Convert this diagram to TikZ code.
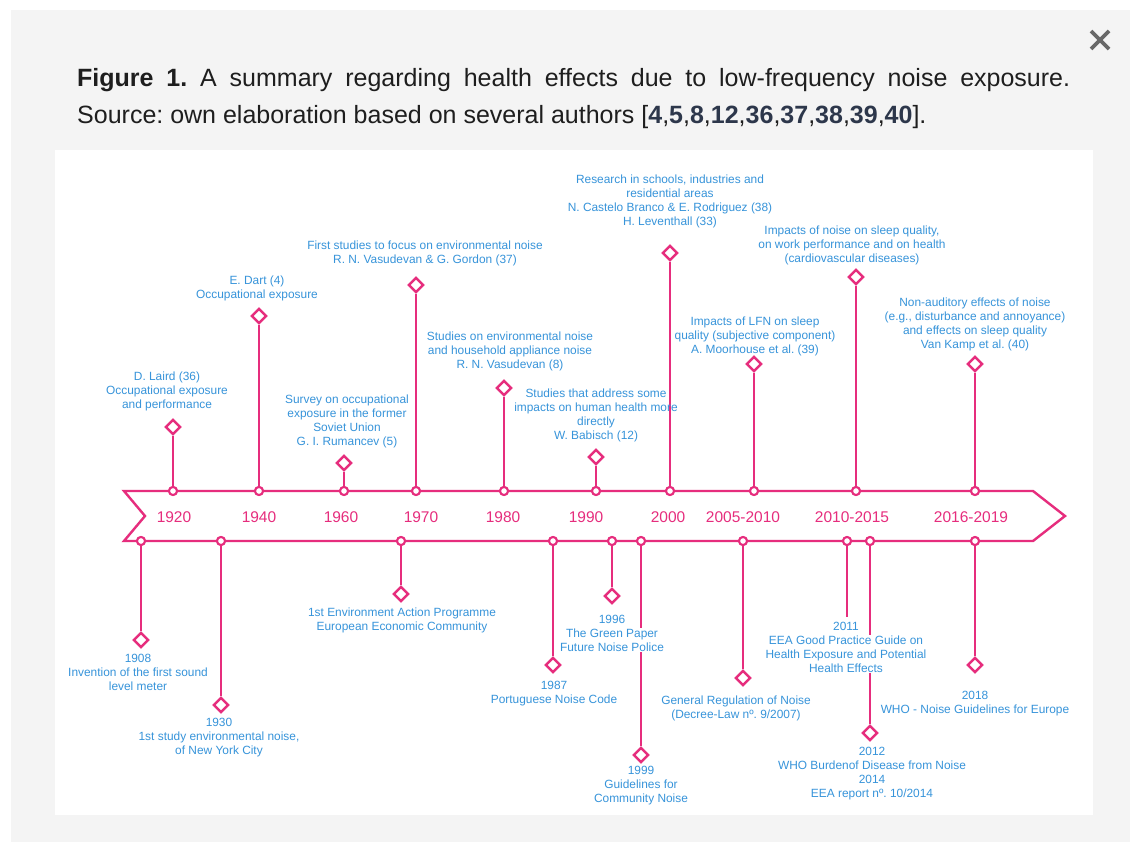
\documentclass[tikz,border=0pt]{standalone}
\usepackage{fontspec}
\setmainfont{Liberation Sans}
\usetikzlibrary{shapes.geometric}
\frenchspacing
\definecolor{pinkline}{RGB}{230,45,125}
\definecolor{bluetext}{RGB}{55,148,218}
\definecolor{pagegray}{RGB}{244,244,244}
\definecolor{captext}{RGB}{30,30,30}
\definecolor{refnum}{RGB}{45,55,75}
\definecolor{closegray}{RGB}{105,105,105}
\tikzset{
  bandline/.style={draw=pinkline, line width=2.4pt, line join=miter},
  stemline/.style={draw=pinkline, line width=2.4pt},
  tickdot/.style={circle, draw=pinkline, fill=white, line width=2pt, minimum size=8pt, inner sep=0pt},
  gem/.style={diamond, draw=pinkline, fill=white, line width=2.4pt, minimum size=15pt, inner sep=0pt},
  lbl/.style={align=center, text=bluetext, inner sep=0pt, font=\fontsize{11.9}{14}\selectfont},
  lblw/.style={lbl, fill=white, inner xsep=1pt, inner ysep=1pt},
  yrlbl/.style={text=pinkline, inner sep=0pt, font=\fontsize{15.5}{18}\selectfont},
  captxt/.style={anchor=west, inner sep=0pt, text=captext, font=\fontsize{25}{30}\selectfont\frenchspacing},
}
\begin{document}
\begin{tikzpicture}[x=1pt, y=-1pt]
\useasboundingbox (0,0) rectangle (1130,842);
\fill[white] (0,0) rectangle (1130,842);
\fill[pagegray] (11,10) rectangle (1130,842);
\fill[white] (55,150) rectangle (1093,815);
% close cross
\draw[closegray, line width=3.6pt] (1091,31) -- (1109,49);
\draw[closegray, line width=3.6pt] (1109,31) -- (1091,49);
% caption
\node[captxt] (cap1) at (77,80) {\makebox[993pt][s]{\textbf{Figure 1.} A summary regarding health effects due to low-frequency noise exposure.}};
\node[captxt] (cap2) at (77,117) {Source: own elaboration based on several authors [{\color{refnum}\textbf{4}},{\color{refnum}\textbf{5}},{\color{refnum}\textbf{8}},{\color{refnum}\textbf{12}},{\color{refnum}\textbf{36}},{\color{refnum}\textbf{37}},{\color{refnum}\textbf{38}},{\color{refnum}\textbf{39}},{\color{refnum}\textbf{40}}].};
% band
\draw[bandline] (124,491) -- (1033,491) -- (1065,516) -- (1033,541) -- (124,541) -- (145,516) -- cycle;
% year labels
\node[yrlbl] (y1) at (174,517) {1920};
\node[yrlbl] (y2) at (259,517) {1940};
\node[yrlbl] (y3) at (341,517) {1960};
\node[yrlbl] (y4) at (421,517) {1970};
\node[yrlbl] (y5) at (503,517) {1980};
\node[yrlbl] (y6) at (586,517) {1990};
\node[yrlbl] (y7) at (668,517) {2000};
\node[yrlbl] (y8) at (743,517) {2005-2010};
\node[yrlbl] (y9) at (852,517) {2010-2015};
\node[yrlbl] (y10) at (971,517) {2016-2019};
% upper diamonds
\node[gem] (u1) at (173,427) {};
\node[gem] (u2) at (259,316) {};
\node[gem] (u3) at (344,463) {};
\node[gem] (u4) at (416,285) {};
\node[gem] (u5) at (504,388) {};
\node[gem] (u6) at (596,457) {};
\node[gem] (u7) at (670,253) {};
\node[gem] (u8) at (754,364) {};
\node[gem] (u9) at (856,277) {};
\node[gem] (u10) at (975,364) {};
% lower diamonds
\node[gem] (l1) at (141,640) {};
\node[gem] (l2) at (221,705) {};
\node[gem] (l3) at (401,594) {};
\node[gem] (l4) at (553,665) {};
\node[gem] (l5) at (612,596) {};
\node[gem] (l6) at (641,755) {};
\node[gem] (l7) at (743,678) {};
\coordinate (l8) at (847,617);
\node[gem] (l9) at (870,733) {};
\node[gem] (l10) at (975,665) {};
% ticks
\foreach \n/\x in {1/173,2/259,3/344,4/416,5/504,6/596,7/670,8/754,9/856,10/975}
  \node[tickdot] (tu\n) at (\x,491) {};
\foreach \n/\x in {1/141,2/221,3/401,4/553,5/612,6/641,7/743,8/847,9/870,10/975}
  \node[tickdot] (tl\n) at (\x,541) {};
% stems
\foreach \n in {1,...,10} {
  \draw[stemline] (tu\n) -- (u\n);
  \draw[stemline] (tl\n) -- (l\n);
}
% redraw diamonds and ticks on top
\foreach \x/\y in {173/427,259/316,344/463,416/285,504/388,596/457,670/253,754/364,856/277,975/364}
  \node[gem] at (\x,\y) {};
\foreach \x/\y in {141/640,221/705,401/594,553/665,612/596,641/755,743/678,870/733,975/665}
  \node[gem] at (\x,\y) {};
\foreach \x in {173,259,344,416,504,596,670,754,856,975}
  \node[tickdot] at (\x,491) {};
\foreach \x in {141,221,401,553,612,641,743,847,870,975}
  \node[tickdot] at (\x,541) {};
% upper labels
\node[lbl] (a1) at (167,391) {D. Laird (36)\\Occupational exposure\\and performance};
\node[lbl] (a2) at (257,288) {E. Dart (4)\\Occupational exposure};
\node[lbl] (a3) at (347,421) {Survey on occupational\\exposure in the former\\Soviet Union\\G. I. Rumancev (5)};
\node[lbl] (a4) at (425,253) {First studies to focus on environmental noise\\R. N. Vasudevan \& G. Gordon (37)};
\node[lbl] (a5) at (510,351) {Studies on environmental noise\\and household appliance noise\\R. N. Vasudevan (8)};
\node[lbl] (a6) at (596,415) {Studies that address some\\impacts on human health more\\directly\\W. Babisch (12)};
\node[lbl] (a7) at (670,201) {Research in schools, industries and\\residential areas\\N. Castelo Branco \& E. Rodriguez (38)\\H. Leventhall (33)};
\node[lbl] (a8) at (755,336) {Impacts of LFN on sleep\\quality (subjective component)\\A. Moorhouse et al. (39)};
\node[lbl] (a9) at (852,245) {Impacts of noise on sleep quality,\\on work performance and on health\\(cardiovascular diseases)};
\node[lbl] (a10) at (975,324) {Non-auditory effects of noise\\(e.g., disturbance and annoyance)\\and effects on sleep quality\\Van Kamp et al. (40)};
% lower labels
\node[lbl] (b1) at (138,672) {1908\\Invention of the first sound\\level meter};
\node[lbl] (b2) at (219,738) {1930\\1st study environmental noise,\\of New York City};
\node[lbl] (b3) at (402,620) {1st Environment Action Programme\\European Economic Community};
\node[lbl] (b4) at (554,694) {1987\\Portuguese Noise Code};
\node[lbl] (b5y) at (612,619) {1996};
\node[lblw] (b5) at (612,640) {The Green Paper\\Future Noise Police};
\node[lbl] (b6) at (641,786) {1999\\Guidelines for\\Community Noise};
\node[lbl] (b7) at (736,708) {General Regulation of Noise\\(Decree-Law nº. 9/2007)};
\node[lbl] (b8y) at (846,626) {2011};
\node[lblw] (b8) at (846,654) {EEA Good Practice Guide on\\Health Exposure and Potential\\Health Effects};
\node[lbl] (b9) at (872,774) {2012\\WHO Burdenof Disease from Noise\\2014\\EEA report nº. 10/2014};
\node[lbl] (b10) at (975,704) {2018\\WHO - Noise Guidelines for Europe};
\end{tikzpicture}
\end{document}
